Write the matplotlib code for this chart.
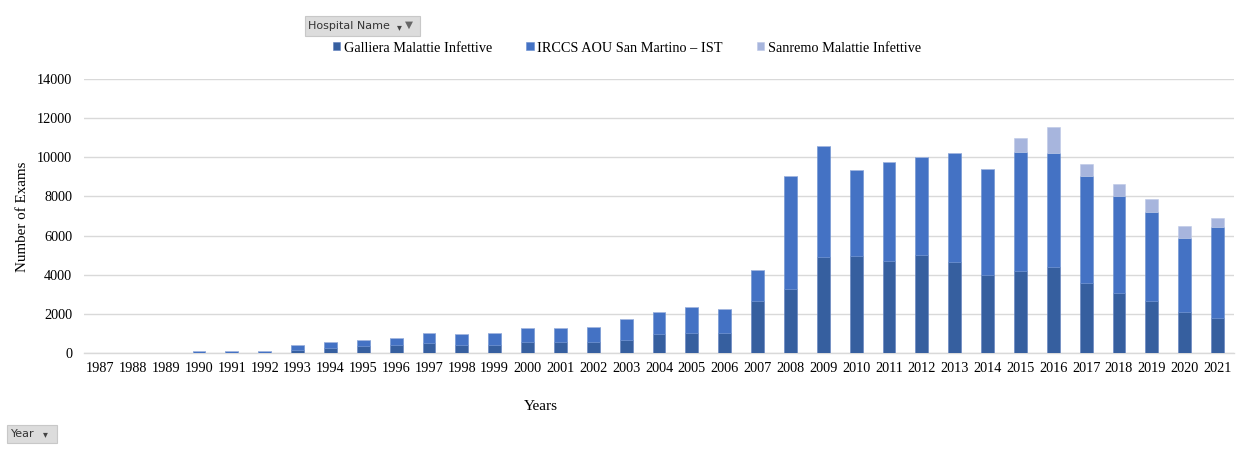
import matplotlib
matplotlib.use("Agg")
import matplotlib.pyplot as plt
import numpy as np
from matplotlib.patches import Rectangle

years = [str(y) for y in range(1987, 2022)]
galliera = [0, 0, 0, 0, 0, 0, 170, 255, 358, 410, 490, 426, 426, 579, 579, 579,
            647, 953, 1021, 1021, 2638, 3268, 4885, 4970, 4698, 4987, 4629, 3966,
            4204, 4408, 3574, 3047, 2655, 2110, 1787]
irccs = [0, 0, 0, 85, 85, 100, 240, 290, 292, 380, 525, 544, 595, 715, 698, 749,
         1089, 1123, 1311, 1243, 1583, 5753, 5668, 4357, 5071, 5004, 5566, 5429,
         6076, 5804, 5447, 4986, 4544, 3779, 4630]
sanremo = [0] * 28 + [681, 1345, 629, 613, 647, 613, 476]

series_names = ["Galliera Malattie Infettive", "IRCCS AOU San Martino \u2013 IST",
                "Sanremo Malattie Infettive"]
colors = ["#365F9F", "#4472C4", "#A7B5DD"]
yticks = [0, 2000, 4000, 6000, 8000, 10000, 12000, 14000]

W, H = 1239, 451
fig = plt.figure(figsize=(W / 100, H / 100), dpi=100)
ax = fig.add_axes([84 / W, (H - 353) / H, (1234 - 84) / W, (353 - 79) / H])

serif = ["Liberation Serif", "DejaVu Serif"]
x = np.arange(len(years))
bw = 0.39
g = np.array(galliera, float)
i_ = np.array(irccs, float)
s = np.array(sanremo, float)
ax.bar(x, g, bw, color=colors[0], label=series_names[0], zorder=3,
       edgecolor="#5d7fbf", linewidth=0.4)
ax.bar(x, i_, bw, bottom=g, color=colors[1], label=series_names[1], zorder=3,
       edgecolor="#6a8fd0", linewidth=0.4)
ax.bar(x, s, bw, bottom=g + i_, color=colors[2], label=series_names[2], zorder=3,
       edgecolor="#bdc8e6", linewidth=0.4)

ax.set_xlim(-0.5, len(years) - 0.5)
ax.set_ylim(0, 14000)
ax.set_yticks(yticks)
ax.set_yticklabels([str(v) for v in yticks], fontfamily=serif, fontsize=10.3)
ax.set_xticks(x)
ax.set_xticklabels(years, fontfamily=serif, fontsize=10.3)
ax.tick_params(axis="both", length=0)
ax.tick_params(axis="y", pad=8.5)
ax.tick_params(axis="x", pad=6.5)
ax.grid(axis="y", color="#D9D9D9", linewidth=1.0, zorder=0)
for sp in ["top", "right", "left"]:
    ax.spines[sp].set_visible(False)
ax.spines["bottom"].set_color("#D9D9D9")
ax.spines["bottom"].set_linewidth(1.0)

fig.text(23 / W, 1 - 217 / H, "Number of Exams", rotation=90, ha="center",
         va="center", fontfamily=serif, fontsize=10.8)
fig.text(541 / W, 1 - 407 / H, "Years", ha="center", va="center",
         fontfamily=serif, fontsize=11)

leg = fig.legend(loc="center", bbox_to_anchor=(627 / W, 1 - 48 / H), ncol=3,
                 frameon=False, prop={"family": serif, "size": 10.3},
                 handlelength=0.5, handleheight=0.5, handletextpad=0.25,
                 columnspacing=2.4, borderaxespad=0)

# pivot buttons
sans = ["DejaVu Sans"]
fig.patches.append(Rectangle((305 / W, 1 - 36 / H), 115 / W, 20 / H,
                             transform=fig.transFigure, facecolor="#DCDCDC",
                             edgecolor="#C8C8C8", linewidth=0.8))
fig.text(308 / W, 1 - 26 / H, "Hospital Name", ha="left", va="center",
         fontfamily=sans, fontsize=8.0, color="#333333")
fig.text(397 / W, 1 - 27 / H, "\u25be", ha="left", va="center",
         fontfamily=sans, fontsize=7, color="#444444")
fig.text(405 / W, 1 - 25 / H, "\u25bc", ha="left", va="center",
         fontfamily=sans, fontsize=7.5, color="#666666")

fig.patches.append(Rectangle((7 / W, 1 - 443 / H), 50 / W, 18 / H,
                             transform=fig.transFigure, facecolor="#DCDCDC",
                             edgecolor="#C8C8C8", linewidth=0.8))
fig.text(11 / W, 1 - 434 / H, "Year", ha="left", va="center",
         fontfamily=sans, fontsize=8.0, color="#333333")
fig.text(43 / W, 1 - 434 / H, "\u25be", ha="left", va="center",
         fontfamily=sans, fontsize=7, color="#444444")

fig.savefig("out.png", dpi=100, facecolor="white")
